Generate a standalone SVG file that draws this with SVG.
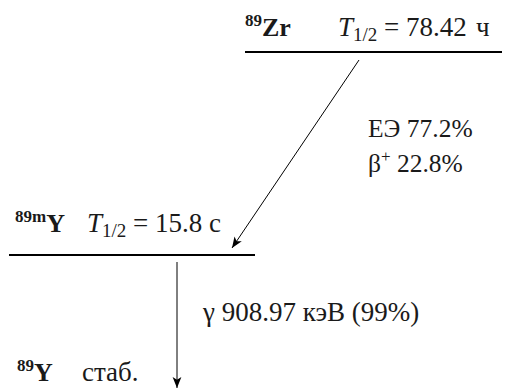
<svg xmlns="http://www.w3.org/2000/svg" width="505" height="391" viewBox="0 0 505 391">
<defs>
<marker id="ah" viewBox="0 0 10 10" refX="10" refY="5" markerWidth="11" markerHeight="11" markerUnits="userSpaceOnUse" orient="auto">
<path d="M0,1 L10,5 L0,9 L2.5,5 Z" fill="#000"/>
</marker>
</defs>
<style>
text{font-family:'Liberation Serif','Times New Roman',serif;font-size:27px;fill:#1a1a1a}
.b{font-weight:bold;font-size:26px}
.m{font-size:25.5px}
.i{font-style:italic}
.sup{font-size:17px}
.sub{font-size:19px}
.lvl{stroke:#000;stroke-width:2.2}
.arr{stroke:#000;stroke-width:1;fill:none;marker-end:url(#ah)}
</style>
<g id="zr89">
<line class="lvl" x1="245" y1="52" x2="502" y2="52"/>
<text x="245" y="36" class="b"><tspan class="sup" dy="-10">89</tspan><tspan dy="10">Zr</tspan></text>
<text y="36"><tspan x="338" class="i">T</tspan><tspan x="353" class="sub" dy="5">1/2</tspan><tspan x="384" dy="-5">= 78.42</tspan><tspan x="476">ч</tspan></text>
</g>
<g id="y89m">
<line class="lvl" x1="9" y1="255" x2="255" y2="255"/>
<text x="15" y="232" class="b"><tspan class="sup" dy="-10">89m</tspan><tspan dy="10">Y</tspan></text>
<text y="232"><tspan x="87" class="i">T</tspan><tspan x="102" class="sub" dy="5">1/2</tspan><tspan x="133" dy="-5">= 15.8 с</tspan></text>
</g>
<g id="y89">
<text x="17" y="381" class="b"><tspan class="sup" dy="-10">89</tspan><tspan dy="10">Y</tspan></text>
<text x="82" y="381">стаб.</text>
</g>
<g id="connectors">
<line class="arr" x1="359" y1="60" x2="232" y2="248"/>
<line class="arr" x1="177" y1="262" x2="177" y2="388"/>
<text x="368" y="137" class="m">ЕЭ 77.2%</text>
<text x="368" y="172" class="m">β<tspan class="sup" dy="-10">+</tspan><tspan dy="10"> 22.8%</tspan></text>
<text x="203" y="321">γ 908.97 кэВ (99%)</text>
</g>
</svg>
